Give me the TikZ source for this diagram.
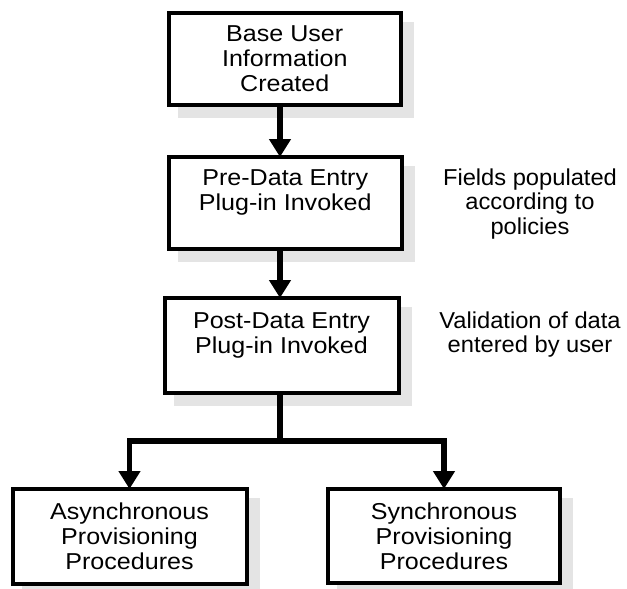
\documentclass[tikz,border=0pt]{standalone}
\usepackage{fontspec}
\setmainfont{Liberation Sans}[FakeStretch=1.09]
\newfontfamily\sidefont{Liberation Sans}[FakeStretch=1.03]
\usetikzlibrary{arrows.meta}
\definecolor{shadowgray}{RGB}{228,228,228}
\begin{document}
\begin{tikzpicture}[x=1pt,y=-1pt,
  flowbox/.style={draw=black, line width=4pt, fill=white, inner sep=0pt, outer sep=0pt,
    align=center, font=\fontsize{23}{25}\selectfont},
  sidenote/.style={inner sep=0pt, align=center, anchor=north, font=\sidefont\fontsize{23}{24.5}\selectfont},
  link/.style={line width=5.5pt, line join=miter},
  conn/.style={link, -{Triangle[width=21pt,length=18pt]}},
  boxshadow/.style={fill=shadowgray}]
\useasboundingbox (0,0) rectangle (627,589);
\fill[white] (0,0) rectangle (627,589);

% shadows (drawn first, offset down-right from each box)
\fill[boxshadow] (177.5,22) rectangle (414,118);
\fill[boxshadow] (177.5,166) rectangle (415,261.5);
\fill[boxshadow] (173.5,307) rectangle (411.5,406);
\fill[boxshadow] (21.5,498) rectangle (259.5,596.5);
\fill[boxshadow] (337,498) rectangle (573,596);

\node[flowbox, minimum width=232.5pt, minimum height=92pt] (b1) at (284.75,59)
  {Base User\\Information\\Created};
\node[flowbox, minimum width=233.5pt, minimum height=91.5pt] (b2) at (285.25,202.75)
  {Pre-Data Entry\\Plug-in Invoked\\\mbox{}};
\node[flowbox, minimum width=234pt, minimum height=95pt] (b3) at (281.5,345.5)
  {Post-Data Entry\\Plug-in Invoked\\\mbox{}};
\node[flowbox, minimum width=234pt, minimum height=94.5pt] (b4) at (129.5,536.25)
  {Asynchronous\\Provisioning\\Procedures};
\node[flowbox, minimum width=232pt, minimum height=94pt] (b5) at (444,536)
  {Synchronous\\Provisioning\\Procedures};

\node[sidenote] (n1) at (530,168.5) {Fields populated\\according to\\policies};
\node[sidenote] (n2) at (530,311.5) {Validation of data\\entered by user};

\coordinate (spine) at (280,0);
\coordinate (fork) at (280,441);
\draw[conn] (b1.south -| spine) -- (b2.north -| spine);
\draw[conn] (b2.south -| spine) -- (b3.north -| spine);
\draw[link] (b3.south -| spine) -- (fork);
\draw[conn] (fork) -| (b4.north);
\draw[conn] (fork) -| (b5.north);
\end{tikzpicture}
\end{document}
